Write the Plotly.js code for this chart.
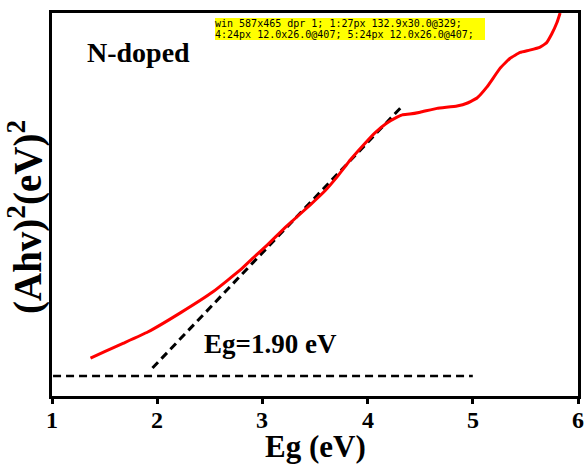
<!DOCTYPE html>
<html><head><meta charset="utf-8">
<script src="https://cdn.plot.ly/plotly-3.0.1.min.js"></script>
<style>html,body{margin:0;padding:0;background:#fff;overflow:hidden}#chart{width:587px;height:465px}</style>
</head><body><div id="chart"></div><div id="dbg" style="position:absolute;top:18px;left:215px;width:270px;font:10px monospace;background:#ff0"></div>
<script>
// Tauc plot data (arbitrary units on y)
const curveX = [1.366, 1.50, 1.68, 1.91, 2.22, 2.53, 2.79, 2.91, 3.05, 3.22, 3.455, 3.60, 3.71, 3.835, 3.95, 4.07, 4.18, 4.28, 4.33, 4.40, 4.50, 4.66, 4.85, 4.95, 5.04, 5.135, 5.26, 5.355, 5.45, 5.54, 5.64, 5.70, 5.75, 5.80, 5.83];
const curveY = [0.099, 0.116, 0.138, 0.167, 0.217, 0.272, 0.329, 0.360, 0.395, 0.441, 0.499, 0.537, 0.572, 0.616, 0.652, 0.687, 0.712, 0.728, 0.734, 0.736, 0.741, 0.751, 0.757, 0.765, 0.778, 0.807, 0.856, 0.882, 0.897, 0.903, 0.911, 0.922, 0.945, 0.975, 1.0];
const tangentX = [1.955, 4.34];
const tangentY = [0.073, 0.760];
const baseX = [1.01, 5.0];
const baseY = [0.052, 0.052];
const tickVals = [1, 2, 3, 4, 5, 6];
const tickText = ['1', '2', '3', '4', '5', '6'];
const minorTickVals = [1.5, 2.5, 3.5, 4.5, 5.5];
const labelText = "N-doped";
const egText = "Eg=1.90 eV";
const xTitle = "Eg (eV)";
const yTitle = "(Ahv)<sup>2</sup>(eV)<sup>2</sup>";

const font = "Liberation Serif, Times New Roman, serif";
const data = [
  {x: baseX, y: baseY, mode: 'lines', line: {color: '#000', width: 2.5, dash: '8px,5px'}, hoverinfo: 'skip'},
  {x: tangentX, y: tangentY, mode: 'lines', line: {color: '#000', width: 3, dash: '8px,5px'}, hoverinfo: 'skip'},
  {x: curveX, y: curveY, mode: 'lines', line: {color: '#ff0000', width: 3, shape: 'spline', smoothing: 0.3}}
];
const pw = 587 - 52 - 9, ph = 465 - 13 - 69;
const pxToPaperX = px => (px - 52) / pw;
const pxToPaperY = py => (465 - 69 - py) / ph;

const annotations = [
  {x: 1.31, y: 0.898, xref: 'x', yref: 'y', text: '<b>' + labelText + '</b>', showarrow: false, xanchor: 'left', yanchor: 'middle', font: {family: font, size: 28, color: '#000'}},
  {x: 2.43, y: 0.136, xref: 'x', yref: 'y', text: '<b>' + egText + '</b>', showarrow: false, xanchor: 'left', yanchor: 'middle', font: {family: font, size: 27, color: '#000'}},
  {x: pxToPaperX(25), y: pxToPaperY(217), xref: 'paper', yref: 'paper', text: '<b>' + yTitle + '</b>', textangle: -90, showarrow: false, xanchor: 'center', yanchor: 'middle', font: {family: font, size: 39, color: '#000'}},
  {x: 0.5, y: pxToPaperY(446), xref: 'paper', yref: 'paper', text: '<b>' + xTitle + '</b>', showarrow: false, xanchor: 'center', yanchor: 'middle', font: {family: font, size: 31, color: '#000'}}
];
tickVals.forEach((v, i) => {
  annotations.push({x: v, y: pxToPaperY(420), xref: 'x', yref: 'paper', text: '<b>' + tickText[i] + '</b>', showarrow: false, xanchor: 'center', yanchor: 'middle', font: {family: font, size: 24, color: '#000'}});
});

const layout = {
  width: 587, height: 465,
  margin: {l: 52, r: 9, t: 13, b: 69},
  paper_bgcolor: '#fff', plot_bgcolor: '#fff',
  showlegend: false,
  font: {family: font, color: '#000', size: 24},
  xaxis: {
    range: [1, 6], tickmode: 'array', tickvals: tickVals, showticklabels: false,
    showgrid: false, zeroline: false,
    showline: true, linewidth: 3, linecolor: '#000', mirror: true,
    ticks: 'outside', ticklen: 5, tickwidth: 3, tickcolor: '#000'
  },
  xaxis2: {
    overlaying: 'x', matching: 'x', range: [1, 6], side: 'bottom', anchor: 'y',
    tickmode: 'array', tickvals: minorTickVals, showticklabels: false,
    ticks: 'outside', ticklen: 2, tickwidth: 2, tickcolor: '#000',
    showgrid: false, zeroline: false, showline: false
  },
  yaxis: {
    range: [0, 1], showticklabels: false, ticks: '',
    showgrid: false, zeroline: false,
    showline: true, linewidth: 3, linecolor: '#000', mirror: true
  },
  annotations: annotations
};
Plotly.newPlot('chart', data, layout, {displayModeBar: false, staticPlot: true}).then(gd => {
  const texts = document.querySelectorAll('.annotation-text');
  let s = 'win ' + innerWidth + 'x' + innerHeight + ' dpr ' + devicePixelRatio + '; ';
  texts.forEach((t, i) => {
    if (i === 1 || i === 4 || i === 5) {
      const b = t.getBoundingClientRect();
      s += i + ':' + getComputedStyle(t).fontSize + ' ' + b.width.toFixed(1) + 'x' + b.height.toFixed(1) + '@' + b.top.toFixed(0) + '; ';
    }
  });
  document.getElementById('dbg').textContent = s;
});
</script></body></html>
